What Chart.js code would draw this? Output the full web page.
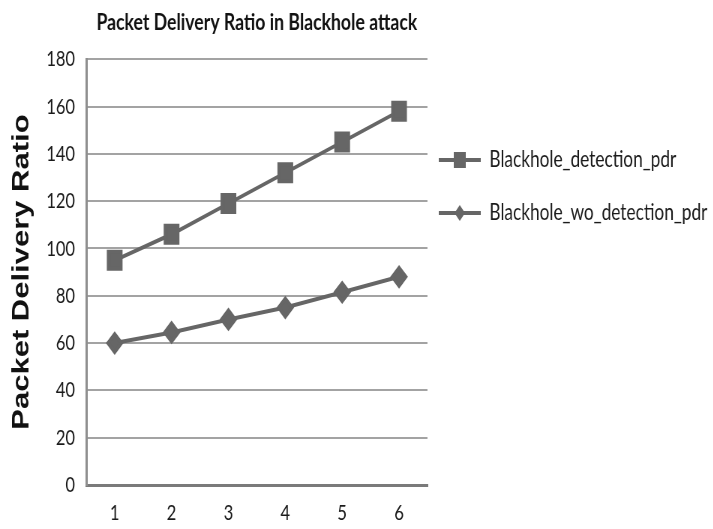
<!DOCTYPE html>
<html>
<head>
<meta charset="utf-8">
<script src="https://cdn.jsdelivr.net/npm/chart.js@4/dist/chart.umd.min.js"></script>
<style>
  body { margin: 0; background: #fff; overflow: hidden; }
  /* the original picture is squeezed sideways, so draw wider and squeeze */
  #wrap { width: 951px; height: 529px; transform: scaleX(0.75); transform-origin: 0 0; }
</style>
</head>
<body>
<div id="wrap"><canvas id="pdrChart"></canvas></div>
<script>
// Data
const rounds = ["1", "2", "3", "4", "5", "6"];
const detectionPdr = [95, 106, 119, 132, 145, 158];
const woDetectionPdr = [60, 64.5, 70, 75, 81.5, 88];
const seriesNames = ["Blackhole_detection_pdr", "Blackhole_wo_detection_pdr"];

const gray = "#666666";
const textColor = "#1a1a1a";
const legendBoxWidth = 381;

// Legend sample: a short line with the marker in the middle
function legendSample(shape) {
  const c = document.createElement("canvas");
  c.width = 56;
  c.height = 20;
  const g = c.getContext("2d");
  g.strokeStyle = gray;
  g.lineWidth = 4;
  g.beginPath();
  g.moveTo(0, 10);
  g.lineTo(56, 10);
  g.stroke();
  g.fillStyle = gray;
  if (shape === "square") {
    g.fillRect(20, 2, 16, 16);
  } else {
    g.beginPath();
    g.moveTo(28, 2);
    g.lineTo(35, 10);
    g.lineTo(28, 18);
    g.lineTo(21, 10);
    g.closePath();
    g.fill();
  }
  return c;
}
const samples = [legendSample("square"), legendSample("diamond")];

// the layout caps a side legend at a quarter of the width; give it more room
const wideLegend = {
  id: "wideLegend",
  beforeLayout(chart) {
    const lg = chart.legend;
    if (lg && !lg._wide) {
      const fit = lg.fit;
      lg.fit = function () {
        fit.call(this);
        this.width = legendBoxWidth;
      };
      lg._wide = true;
    }
  },
};

new Chart(document.getElementById("pdrChart"), {
  type: "line",
  data: {
    labels: rounds,
    datasets: [
      {
        label: seriesNames[0],
        data: detectionPdr,
        borderColor: gray,
        backgroundColor: gray,
        borderWidth: 4,
        pointStyle: "rect",
        pointRadius: 12,
        tension: 0,
      },
      {
        label: seriesNames[1],
        data: woDetectionPdr,
        borderColor: gray,
        backgroundColor: gray,
        borderWidth: 4,
        pointStyle: "rectRot",
        pointRadius: 9,
        tension: 0,
      },
    ],
  },
  plugins: [wideLegend],
  options: {
    responsive: true,
    maintainAspectRatio: false,
    animation: false,
    layout: { padding: 0 },
    plugins: {
      title: {
        display: true,
        fullSize: false,
        text: "Packet Delivery Ratio in Blackhole attack",
        color: "#111",
        font: { family: "Lato", size: 23.5, weight: "bold" },
        padding: { top: 8, bottom: 23 },
      },
      legend: {
        position: "right",
        align: "start",
        title: {
          display: true,
          text: " ",
          font: { size: 12, lineHeight: 1 },
          padding: { top: 121.5, bottom: 0 },
        },
        labels: {
          color: textColor,
          font: { family: "Lato", size: 23, lineHeight: 38 / 23 },
          padding: 15,
          usePointStyle: true,
          pointStyleWidth: 56,
          generateLabels: (chart) =>
            Chart.defaults.plugins.legend.labels
              .generateLabels(chart)
              .map((item, i) => ({
                ...item,
                text: [item.text],
                pointStyle: samples[i],
              })),
        },
      },
      tooltip: { enabled: false },
    },
    scales: {
      x: {
        offset: true,
        grid: { display: false, drawTicks: false },
        border: { color: "#7a7a7a", width: 3 },
        ticks: { color: textColor, font: { family: "Lato", size: 22 }, padding: 15 },
        afterFit: (s) => { s.height = 44; },
      },
      y: {
        min: 0,
        max: 180,
        ticks: { stepSize: 20, color: textColor, font: { family: "Lato", size: 22 }, padding: 15 },
        grid: { color: "#a3a3a3", lineWidth: 2, drawTicks: false },
        border: { color: "#8f8f8f", width: 3 },
        title: {
          display: true,
          text: "Packet Delivery Ratio",
          color: "#111",
          font: { family: "'Liberation Sans', Arial, sans-serif", size: 31, weight: "bold" },
          padding: { top: 10.7, bottom: 0 },
        },
        afterFit: (s) => { s.width = 115; },
      },
    },
  },
});
</script>
</body>
</html>
